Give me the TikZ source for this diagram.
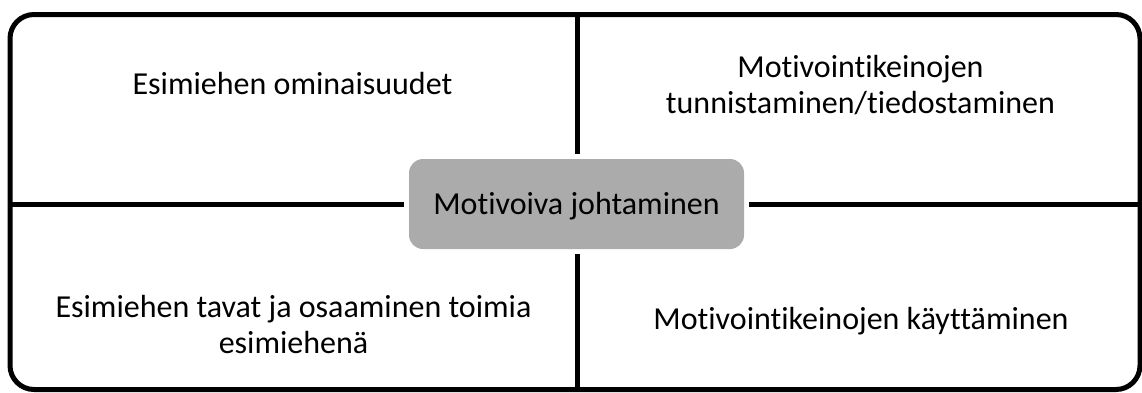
\documentclass[tikz,border=0pt]{standalone}
\usepackage{fontspec}
\setmainfont{Carlito}[RawFeature={-liga;-clig;-calt;-dlig}]
\definecolor{boxgray}{HTML}{ABABAB}
\begin{document}
\begin{tikzpicture}[x=1pt,y=-1pt,
  frame/.style={line width=5pt},
  lbl/.style={anchor=base,inner sep=0pt,font=\fontsize{32}{36}\selectfont},
  centerbox/.style={fill=boxgray,draw=none,rounded corners=14pt,minimum width=335pt,minimum height=90pt,inner sep=0pt,font=\fontsize{32}{36}\selectfont}]
\useasboundingbox (0,0) rectangle (1142,392);
\draw[frame,rounded corners=24pt] (10,14.5) rectangle (1140,389.5);
\coordinate (T) at (577,14.5);
\coordinate (B) at (577,389.5);
\coordinate (L) at (10,204);
\coordinate (R) at (1140,204);
\node[centerbox] (c) at (576.5,204) {};
\node[lbl] (ct) at (576.5,214) {Motivoiva johtaminen};
\draw[frame,shorten >=5pt] (T) -- (c.north -| T);
\draw[frame,shorten >=5pt] (B) -- (c.south -| B);
\draw[frame,shorten >=5pt] (L) -- (c.west |- L);
\draw[frame,shorten >=5pt] (R) -- (c.east |- R);
\node[lbl] (tl) at (292.5,94) {Esimiehen ominaisuudet};
\node[lbl] (tr1) at (860.5,77) {Motivointikeinojen};
\node[lbl] (tr2) at (860.5,113) {tunnistaminen/tiedostaminen};
\node[lbl] (bl1) at (293.5,317) {Esimiehen tavat ja osaaminen toimia};
\node[lbl] (bl2) at (293.5,353) {esimiehenä};
\node[lbl] (br) at (861,329) {Motivointikeinojen käyttäminen};
\end{tikzpicture}
\end{document}
